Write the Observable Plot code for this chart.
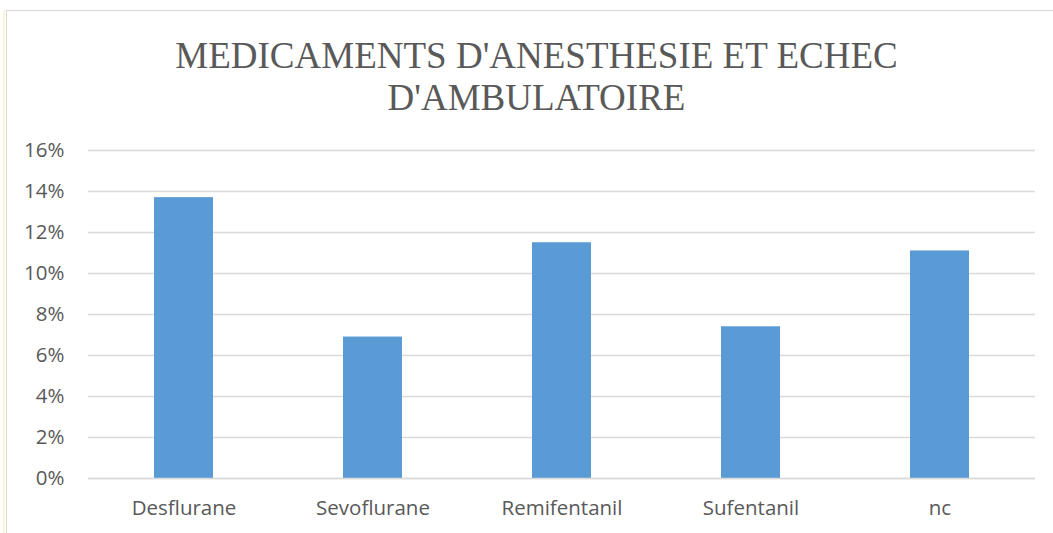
<!DOCTYPE html>
<html>
<head>
<meta charset="utf-8">
<script src="https://cdn.jsdelivr.net/npm/d3@7"></script>
<script src="https://cdn.jsdelivr.net/npm/@observablehq/plot@0.6"></script>
<style>
  html, body { margin: 0; padding: 0; background: #fff; }
  #page { position: relative; width: 1053px; height: 533px; overflow: hidden; }
  #edge { position: absolute; left: 3px; top: 10px; width: 2px; height: 540px; background: #fbf3dc; }
  #frame { position: absolute; left: 6px; top: 10px; width: 1060px; height: 540px; border: 1px solid #d9d9d9; box-sizing: border-box; }
  #title { position: absolute; left: 0; top: 0; width: 1053px; height: 125px;
           font-family: "Liberation Serif", "Times New Roman", serif; font-size: 37px; line-height: 41.5px; color: #595959; text-align: center; }
  #title .inner { position: absolute; left: 20px; right: 0; top: 35px; }
  #chart { position: absolute; left: 0; top: 125px; width: 1053px; }
</style>
</head>
<body>
<div id="page">
  <div id="edge"></div>
  <div id="frame"></div>
  <div id="title"><div class="inner">MEDICAMENTS D'ANESTHESIE ET ECHEC<br>D'AMBULATOIRE</div></div>
  <div id="chart"></div>
</div>
<script>
const categories = ["Desflurane", "Sevoflurane", "Remifentanil", "Sufentanil", "nc"];
const values = [0.137, 0.069, 0.115, 0.074, 0.111];
const yTicks = [0, 0.02, 0.04, 0.06, 0.08, 0.10, 0.12, 0.14, 0.16];

const data = categories.map((c, i) => ({category: c, value: values[i]}));

const chart = Plot.plot({
  width: 1053,
  height: 408,
  marginTop: 25,
  marginBottom: 55,
  marginLeft: 88,
  marginRight: 18,
  style: {fontFamily: "'Open Sans', sans-serif", color: "#595959", background: "transparent", maxWidth: "none"},
  x: {domain: categories, paddingInner: 0.69, paddingOuter: 0.345, label: null},
  y: {domain: [0, 0.16], label: null},
  marks: [
    Plot.gridY(yTicks, {stroke: "#d9d9d9", strokeOpacity: 1, strokeWidth: 1.5}),
    Plot.barY(data, {x: "category", y: "value", fill: "#5b9bd5"}),
    Plot.ruleY([0], {stroke: "#d9d9d9", strokeWidth: 1.5}),
    Plot.axisY(yTicks, {tickFormat: d => Math.round(d * 100) + "%", tickSize: 0, tickPadding: 24, fontSize: 20.5, fill: "#595959", label: null}),
    Plot.axisX({tickSize: 0, tickPadding: 22, fontSize: 20.5, fill: "#595959", label: null})
  ]
});
document.getElementById("chart").appendChild(chart);
</script>
</body>
</html>
